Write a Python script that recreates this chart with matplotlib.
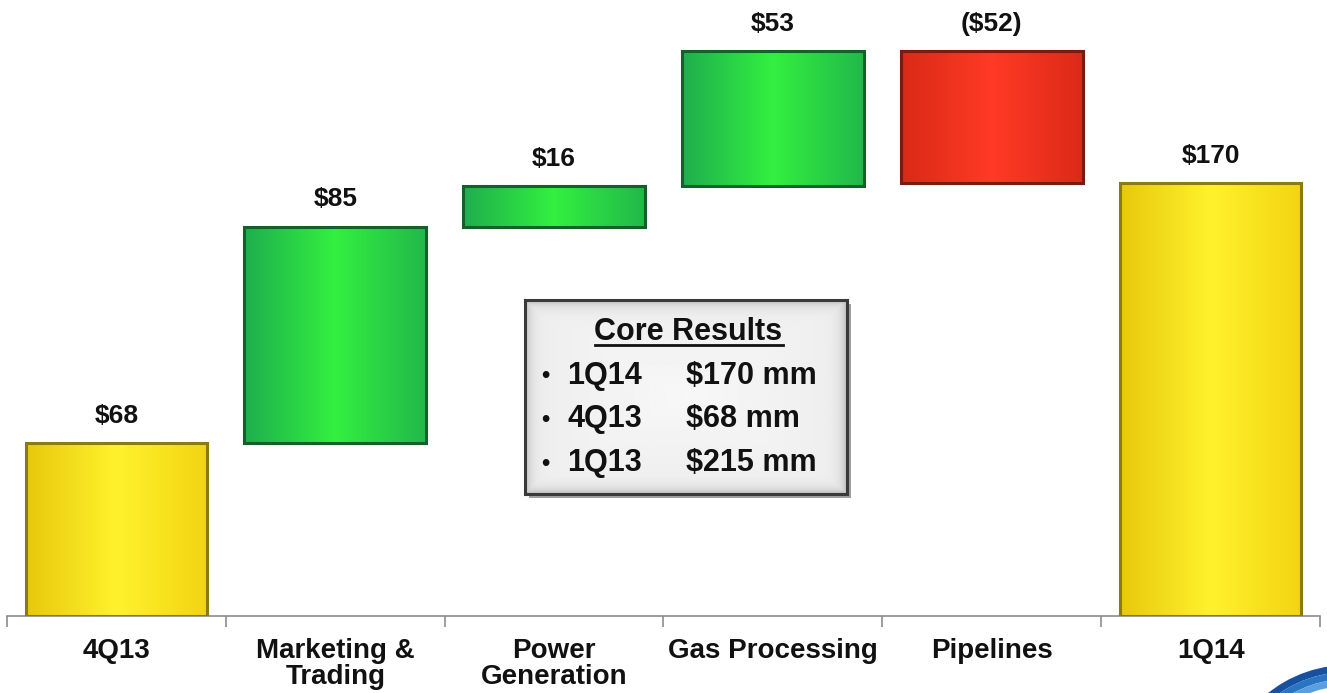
import numpy as np
import matplotlib
matplotlib.use("Agg")
import matplotlib.pyplot as plt
from matplotlib.colors import LinearSegmentedColormap
from matplotlib.patches import Rectangle, Wedge
from matplotlib.transforms import IdentityTransform

plt.rcParams['font.family'] = ['Liberation Sans', 'DejaVu Sans']

# waterfall data ($ mm)
categories = ["4Q13", "Marketing &\nTrading", "Power\nGeneration",
              "Gas Processing", "Pipelines", "1Q14"]
changes = [68, 85, 16, 53, -52, 170]
kinds = ["total", "up", "up", "up", "down", "total"]
value_labels = ["$68", "$85", "$16", "$53", "($52)", "$170"]

box_title = "Core Results"
box_periods = ["1Q14", "4Q13", "1Q13"]
box_values = ["$170 mm", "$68 mm", "$215 mm"]

W, H = 1327, 693
fig = plt.figure(figsize=(W / 100, H / 100), dpi=100)
ax = fig.add_axes([7 / W, 77 / H, 1313 / W, 616 / H])
ax.set_xlim(-0.5, 5.5)
ax.set_ylim(0, 242)

cmaps = {
    "total": LinearSegmentedColormap.from_list("y", ["#e8c80c", "#fff22c", "#f2d412"]),
    "up": LinearSegmentedColormap.from_list("g", ["#1fae4e", "#33f040", "#22b84a"]),
    "down": LinearSegmentedColormap.from_list("r", ["#d92a16", "#ff3a25", "#dc2a18"]),
}
edges = {"total": "#8a7a10", "up": "#155f2a", "down": "#7a1a10"}

# bottoms from running total
bottoms, heights = [], []
running = 0
for k, v in zip(kinds, changes):
    if k == "total":
        bottoms.append(0)
        heights.append(v)
        running = v
    elif v >= 0:
        bottoms.append(running)
        heights.append(v)
        running += v
    else:
        bottoms.append(running + v)
        heights.append(-v)
        running += v

x = np.arange(len(categories))
bars = ax.bar(x, heights, bottom=bottoms, width=0.83, color="none",
              edgecolor="none", zorder=2)

grad = np.linspace(0, 1, 256).reshape(1, -1)
for b, k, lab in zip(bars, kinds, value_labels):
    x0, y0 = b.get_x(), b.get_y()
    w, h = b.get_width(), b.get_height()
    ax.imshow(grad, cmap=cmaps[k], extent=(x0, x0 + w, y0, y0 + h),
              aspect="auto", zorder=2)
    ax.add_patch(Rectangle((x0, y0), w, h, fill=False, edgecolor=edges[k],
                           lw=2.2, zorder=3))
    ax.annotate(lab, (x0 + w / 2, y0 + h), xytext=(0, 11),
                textcoords="offset points", ha="center", va="bottom",
                fontsize=19, fontweight="bold", color="#111111")

for s in ["top", "left", "right"]:
    ax.spines[s].set_visible(False)
ax.spines["bottom"].set_color("#8c8c8c")
ax.spines["bottom"].set_linewidth(1.2)
ax.set_yticks([])
ax.set_xticks(x)
ax.set_xticklabels(categories, fontsize=20, fontweight="bold", color="#111111",
                   linespacing=1.0)
ax.tick_params(axis="x", which="major", length=0, pad=16)
ax.set_xticks(np.arange(-0.5, 6.0, 1.0), minor=True)
ax.tick_params(axis="x", which="minor", length=8, color="#8c8c8c", width=1.2,
               direction="out")


def fx(px):
    return px / W


def fy(py):
    return 1 - py / H


# Core Results box
bx0, by0, bx1, by1 = 525, 300, 847, 494
fig.patches.append(Rectangle((fx(bx0 + 4), fy(by1 + 4)), fx(bx1 - bx0), (by1 - by0) / H,
                             transform=fig.transFigure, facecolor="#a0a0a0",
                             edgecolor="none", zorder=4))
box_ax = fig.add_axes([fx(bx0), fy(by1), fx(bx1 - bx0), (by1 - by0) / H], zorder=5)
yy, xx = np.mgrid[-1:1:100j, -1:1:200j]
shade = 0.93 + 0.04 * (1 - np.maximum(np.abs(xx), np.abs(yy))) \
    - 0.18 * np.maximum(np.abs(xx) ** 30, np.abs(yy) ** 20)
box_ax.imshow(shade, cmap="gray", vmin=0, vmax=1.0, extent=(0, 1, 0, 1),
              aspect="auto")
box_ax.set_xticks([])
box_ax.set_yticks([])
for s in box_ax.spines.values():
    s.set_color("#3a3a3a")
    s.set_linewidth(2.2)

fig.text(fx(688), fy(332), box_title, ha="center", va="center", fontsize=22,
         fontweight="bold", color="#111111", zorder=6)
fig.add_artist(plt.Line2D([fx(595), fx(783)], [fy(345), fy(345)], color="#111111",
                          lw=2.0, zorder=6))
for i, (p, v) in enumerate(zip(box_periods, box_values)):
    yc = fy(376 + 43.5 * i)
    fig.text(fx(545), yc, "\u2022", ha="center", va="center", fontsize=17,
             fontweight="bold", color="#111111", zorder=6)
    fig.text(fx(567), yc, p, ha="left", va="center", fontsize=22,
             fontweight="bold", color="#111111", zorder=6)
    fig.text(fx(686), yc, v, ha="left", va="center", fontsize=22,
             fontweight="bold", color="#111111", zorder=6)

# corner logo swoosh (pixel coordinates, origin bottom-left)
for r, c in [(128, "#16509e"), (121, "#2a74c4"), (114, "#5aa0e0")]:
    fig.patches.append(Wedge((1348, -100), r, 98, 142, width=7,
                             transform=IdentityTransform(), facecolor=c,
                             edgecolor="none", zorder=3))

fig.savefig("out.png", dpi=100)
